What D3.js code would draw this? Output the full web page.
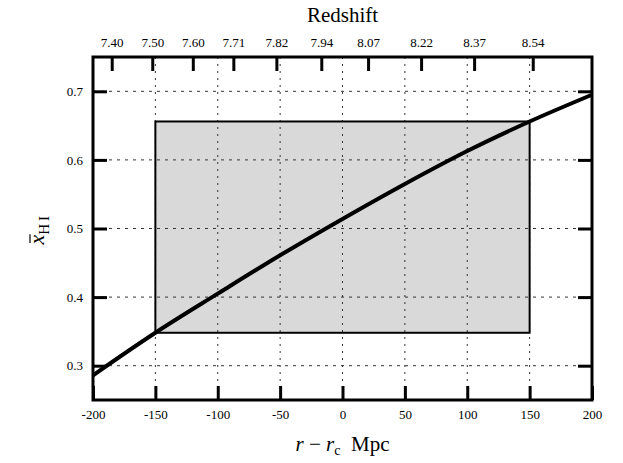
<!DOCTYPE html>
<html>
<head>
<meta charset="utf-8">
<script src="https://cdn.jsdelivr.net/npm/d3@7"></script>
<style>
  body { margin: 0; background: #fff; }
  svg text { font-family: "Liberation Serif", "DejaVu Serif", serif; fill: #000; }
</style>
</head>
<body>
<div id="chart"></div>
<script>
// distance from centre (Mpc) and mean neutral fraction
var distance = [-200, -150, -100, -50, 0, 50, 100, 150, 200]
var xHI = [0.286, 0.348, 0.405, 0.461, 0.514, 0.565, 0.613, 0.656, 0.695]

// shaded window
var boxX = [-150, 150]
var boxY = [0.348, 0.656]

var xTicks = [-200, -150, -100, -50, 0, 50, 100, 150, 200]
var yTicks = [0.3, 0.4, 0.5, 0.6, 0.7]

// redshift ticks on top axis (position in Mpc, label)
var zTickPos = [-185, -152.5, -120, -87.5, -53, -17, 20.5, 63, 105.5, 152.5]
var zTickLabels = ['7.40', '7.50', '7.60', '7.71', '7.82', '7.94', '8.07', '8.22', '8.37', '8.54']

var width = 623, height = 463
var margin = {top: 57, right: 31, bottom: 63, left: 93}
var w = width - margin.left - margin.right
var h = height - margin.top - margin.bottom

var svg = d3.select('#chart').append('svg')
	.attr('width', width)
	.attr('height', height)

var g = svg.append('g').attr('transform', 'translate(' + margin.left + ',' + margin.top + ')')

var x = d3.scaleLinear().domain([-200, 200]).range([0, w])
var y = d3.scaleLinear().domain([0.25, 0.75]).range([h, 0])

// shaded box
g.append('rect')
	.attr('x', x(boxX[0]))
	.attr('y', y(boxY[1]))
	.attr('width', x(boxX[1]) - x(boxX[0]))
	.attr('height', y(boxY[0]) - y(boxY[1]))
	.attr('fill', '#d9d9d9')

// dotted grid
g.append('g').selectAll('line')
	.data(xTicks.slice(1, -1))
	.enter().append('line')
	.attr('x1', function(d) { return x(d) }).attr('x2', function(d) { return x(d) })
	.attr('y1', 0).attr('y2', h)
	.attr('stroke', '#333').attr('stroke-width', 1).attr('stroke-dasharray', '2,5')

g.append('g').selectAll('line')
	.data(yTicks)
	.enter().append('line')
	.attr('x1', 0).attr('x2', w)
	.attr('y1', function(d) { return y(d) }).attr('y2', function(d) { return y(d) })
	.attr('stroke', '#333').attr('stroke-width', 1).attr('stroke-dasharray', '3,5')

// box outline
g.append('rect')
	.attr('x', x(boxX[0]))
	.attr('y', y(boxY[1]))
	.attr('width', x(boxX[1]) - x(boxX[0]))
	.attr('height', y(boxY[0]) - y(boxY[1]))
	.attr('fill', 'none')
	.attr('stroke', '#000')
	.attr('stroke-width', 2)

// curve
var pts = distance.map(function(d, i) { return [d, xHI[i]] })
g.append('path')
	.datum(pts)
	.attr('fill', 'none')
	.attr('stroke', '#000')
	.attr('stroke-width', 4)
	.attr('d', d3.line()
		.x(function(d) { return x(d[0]) })
		.y(function(d) { return y(d[1]) })
		.curve(d3.curveMonotoneX))

// axes with inward ticks
var axBottom = g.append('g').attr('transform', 'translate(0,' + h + ')')
	.call(d3.axisBottom(x).tickValues(xTicks).tickSize(-14).tickPadding(10)
		.tickFormat(function(d) { return String(d) }))
var axLeft = g.append('g')
	.call(d3.axisLeft(y).tickValues(yTicks).tickSize(-14).tickPadding(10).tickFormat(d3.format('.1f')))
var axRight = g.append('g').attr('transform', 'translate(' + w + ',0)')
	.call(d3.axisRight(y).tickValues(yTicks).tickSize(-14).tickFormat(''))
var axTop = g.append('g')
	.call(d3.axisTop(x).tickValues(zTickPos).tickSize(-14).tickPadding(10)
		.tickFormat(function(d, i) { return zTickLabels[i] }))

;[axBottom, axLeft, axRight, axTop].forEach(function(a) {
	a.select('.domain').remove()
	a.selectAll('.tick line').attr('stroke', '#000').attr('stroke-width', 3)
	a.selectAll('.tick text').attr('font-size', 13).attr('fill', '#111')
		.attr('font-family', '"Liberation Serif", serif')
})

// frame
g.append('rect')
	.attr('width', w).attr('height', h)
	.attr('fill', 'none').attr('stroke', '#000').attr('stroke-width', 3)

// titles
svg.append('text')
	.attr('x', margin.left + w / 2).attr('y', 22)
	.attr('text-anchor', 'middle').attr('font-size', 21)
	.text('Redshift')

var xt = svg.append('text')
	.attr('x', margin.left + w / 2).attr('y', height - 12)
	.attr('text-anchor', 'middle').attr('font-size', 21)
xt.append('tspan').attr('font-style', 'italic').text('r')
xt.append('tspan').text(' \u2212 ')
xt.append('tspan').attr('font-style', 'italic').text('r')
xt.append('tspan').attr('font-size', 14).attr('dy', 4).text('c')
xt.append('tspan').attr('dy', -4).text('\u2002Mpc')

// y title: x-bar with H I subscript
var ylab = svg.append('g')
	.attr('transform', 'translate(44,' + (margin.top + h / 2) + ') rotate(-90)')
var yt = ylab.append('text')
	.attr('x', -16).attr('font-size', 22)
var xchar = yt.append('tspan').attr('font-style', 'italic').text('x')
yt.append('tspan').attr('font-size', 15).attr('dy', 5).text('H\u2009I')
var xw = xchar.node().getComputedTextLength()
ylab.append('line')
	.attr('x1', -16 + 1.5).attr('x2', -16 + xw + 0.5)
	.attr('y1', -14).attr('y2', -14)
	.attr('stroke', '#000').attr('stroke-width', 1.2)
</script>
</body>
</html>
